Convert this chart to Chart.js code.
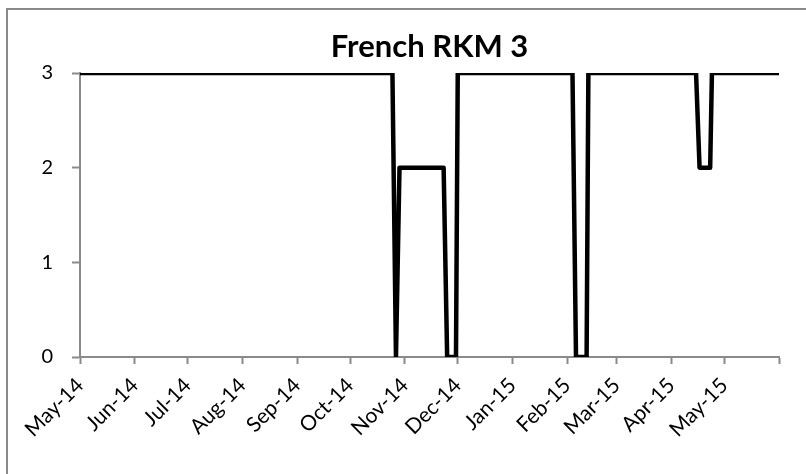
<!DOCTYPE html>
<html>
<head>
<meta charset="utf-8">
<title>French RKM 3</title>
<script src="https://cdn.jsdelivr.net/npm/chart.js@4.4.1/dist/chart.umd.min.js"></script>
<style>
  html, body { margin: 0; padding: 0; background: #fff; }
  #wrap { position: relative; width: 806px; height: 474px; }
  #frame {
    position: absolute; left: 6px; top: 8px; right: -10px; bottom: -10px;
    border-left: 2px solid #8a8a8a; border-top: 2px solid #8a8a8a;
    pointer-events: none;
  }
  canvas { position: absolute; left: 0; top: 0; }
</style>
</head>
<body>
<div id="wrap">
  <canvas id="chart" width="806" height="474"></canvas>
  <div id="frame"></div>
</div>
<script>
// ===== DATA =====
// dates where the level changes (vertices of the line)
const dates = [
  '2014-05-01', '2014-10-25', '2014-10-27', '2014-10-29',
  '2014-11-23', '2014-11-25', '2014-11-30', '2014-12-01',
  '2015-02-04', '2015-02-06', '2015-02-12', '2015-02-13',
  '2015-04-15', '2015-04-17', '2015-04-23', '2015-04-24',
  '2015-06-01'
];
const values = [3, 3, 0, 2, 2, 0, 0, 3, 3, 0, 0, 3, 3, 2, 2, 3, 3];

// month boundaries on the date axis and their labels
const monthStarts = [
  '2014-05-01', '2014-06-01', '2014-07-01', '2014-08-01', '2014-09-01',
  '2014-10-01', '2014-11-01', '2014-12-01', '2015-01-01', '2015-02-01',
  '2015-03-01', '2015-04-01', '2015-05-01', '2015-06-01'
];
const monthLabels = [
  'May-14', 'Jun-14', 'Jul-14', 'Aug-14', 'Sep-14', 'Oct-14', 'Nov-14',
  'Dec-14', 'Jan-15', 'Feb-15', 'Mar-15', 'Apr-15', 'May-15'
];
const yTicks = [0, 1, 2, 3];
const chartTitle = 'French RKM 3';

// ===== HELPERS =====
const DAY = 86400000;
const origin = Date.parse(monthStarts[0] + 'T00:00:00Z');
const toDay = (s) => (Date.parse(s + 'T00:00:00Z') - origin) / DAY;

const points = dates.map((d, i) => ({ x: toDay(d), y: values[i] }));
const tickDays = monthStarts.map(toDay);

const axisGray = '#8a8a8a';
const fontFamily = 'Lato, "Open Sans", "DejaVu Sans", sans-serif';

// title centred over the plot area, like the Excel original
const titlePlugin = {
  id: 'excelTitle',
  afterDraw(chart) {
    const c = chart.ctx;
    const area = chart.chartArea;
    c.save();
    c.fillStyle = '#000';
    c.font = 'bold 31px ' + fontFamily;
    c.textAlign = 'center';
    c.textBaseline = 'alphabetic';
    c.fillText(chartTitle, (area.left + area.right) / 2, area.top - 16);
    c.restore();
  }
};

// ===== CHART =====
const ctx = document.getElementById('chart').getContext('2d');
new Chart(ctx, {
  type: 'line',
  data: {
    datasets: [{
      label: chartTitle,
      data: points,
      borderColor: '#000',
      borderWidth: 4.5,
      borderJoinStyle: 'round',
      borderCapStyle: 'butt',
      tension: 0,
      pointRadius: 0,
      fill: false
    }]
  },
  options: {
    responsive: false,
    animation: false,
    layout: { padding: { left: 0, right: 27, top: 73, bottom: 0 } },
    plugins: {
      legend: { display: false },
      tooltip: { enabled: false },
      title: { display: false }
    },
    scales: {
      x: {
        type: 'linear',
        min: tickDays[0],
        max: tickDays[tickDays.length - 1],
        afterBuildTicks: (scale) => {
          scale.ticks = tickDays.map(v => ({ value: v }));
        },
        afterFit: (scale) => { scale.height = 474 - 357; },
        border: { display: true, color: axisGray, width: 2 },
        grid: {
          drawOnChartArea: false,
          drawTicks: true,
          tickLength: 7,
          tickWidth: 2,
          color: axisGray
        },
        ticks: {
          autoSkip: false,
          minRotation: 45,
          maxRotation: 45,
          padding: 9,
          color: '#000',
          font: { family: fontFamily, size: 21 },
          callback: (v, i) => monthLabels[i] || ''
        }
      },
      y: {
        min: yTicks[0],
        max: yTicks[yTicks.length - 1],
        afterBuildTicks: (scale) => {
          scale.ticks = yTicks.map(v => ({ value: v }));
        },
        afterFit: (scale) => { scale.width = 80; },
        border: { display: true, color: axisGray, width: 2 },
        grid: {
          drawOnChartArea: false,
          drawTicks: true,
          tickLength: 8,
          tickWidth: 2,
          color: axisGray
        },
        ticks: {
          padding: 19,
          color: '#000',
          font: { family: fontFamily, size: 20 }
        }
      }
    }
  },
  plugins: [titlePlugin]
});
</script>
</body>
</html>
